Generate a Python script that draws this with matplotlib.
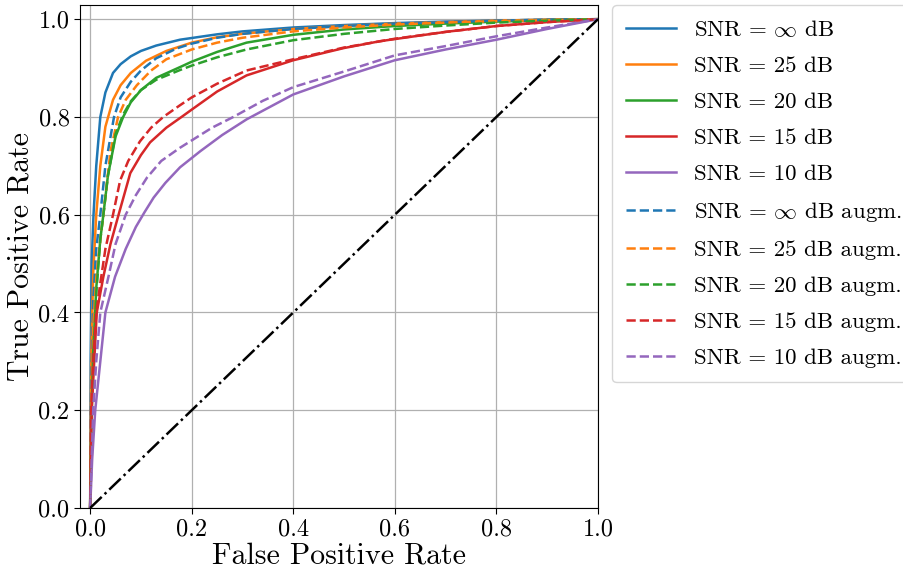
import matplotlib
matplotlib.use("Agg")
import matplotlib.pyplot as plt

plt.rcParams['font.family'] = ['cmr10', 'DejaVu Serif']
plt.rcParams['mathtext.fontset'] = 'cm'
plt.rcParams['axes.formatter.use_mathtext'] = True

labels = [r'SNR = $\infty$ dB', 'SNR = 25 dB', 'SNR = 20 dB', 'SNR = 15 dB', 'SNR = 10 dB',
          r'SNR = $\infty$ dB augm.', 'SNR = 25 dB augm.', 'SNR = 20 dB augm.',
          'SNR = 15 dB augm.', 'SNR = 10 dB augm.']

fpr_inf = [0, 0.001, 0.003, 0.0066, 0.012, 0.02, 0.03, 0.045, 0.06, 0.08, 0.1, 0.13, 0.177, 0.25, 0.3, 0.4, 0.5, 0.6, 0.7, 0.8, 0.9, 1.0]
tpr_inf = [0, 0.3, 0.5, 0.6, 0.7, 0.8, 0.85, 0.89, 0.908, 0.924, 0.935, 0.946, 0.958, 0.969, 0.975, 0.983, 0.988, 0.992, 0.995, 0.997, 0.999, 1.0]

fpr_25 = [0, 0.002, 0.006, 0.012, 0.02, 0.03, 0.045, 0.06, 0.08, 0.11, 0.15, 0.2, 0.25, 0.3, 0.4, 0.5, 0.6, 0.7, 0.8, 0.9, 1.0]
tpr_25 = [0, 0.3, 0.48, 0.6, 0.7, 0.78, 0.835, 0.865, 0.89, 0.915, 0.935, 0.952, 0.963, 0.97, 0.98, 0.986, 0.991, 0.994, 0.997, 0.999, 1.0]

fpr_20 = [0, 0.002, 0.006, 0.012, 0.02, 0.026, 0.035, 0.05, 0.065, 0.08, 0.1, 0.13, 0.177, 0.2, 0.25, 0.308, 0.4, 0.5, 0.6, 0.7, 0.8, 0.9, 1.0]
tpr_20 = [0, 0.15, 0.32, 0.45, 0.55, 0.6, 0.68, 0.76, 0.8, 0.83, 0.855, 0.88, 0.902, 0.913, 0.933, 0.952, 0.968, 0.979, 0.986, 0.991, 0.995, 0.998, 1.0]

fpr_15 = [0, 0.003, 0.008, 0.013, 0.026, 0.04, 0.056, 0.079, 0.1, 0.118, 0.15, 0.18, 0.2, 0.25, 0.308, 0.4, 0.5, 0.571, 0.7, 0.8, 0.9, 1.0]
tpr_15 = [0, 0.2, 0.3, 0.4, 0.473, 0.54, 0.6, 0.685, 0.722, 0.748, 0.778, 0.8, 0.815, 0.852, 0.885, 0.916, 0.941, 0.955, 0.974, 0.986, 0.994, 1.0]

fpr_10 = [0, 0.004, 0.01, 0.02, 0.03, 0.049, 0.07, 0.09, 0.107, 0.125, 0.148, 0.177, 0.217, 0.26, 0.308, 0.4, 0.5, 0.6, 0.7, 0.8, 0.9, 1.0]
tpr_10 = [0, 0.1, 0.2, 0.3, 0.4, 0.473, 0.53, 0.575, 0.605, 0.635, 0.665, 0.697, 0.73, 0.763, 0.795, 0.846, 0.883, 0.916, 0.938, 0.958, 0.98, 1.0]

fpr_inf_a = [0, 0.002, 0.006, 0.012, 0.02, 0.03, 0.047, 0.06, 0.08, 0.1, 0.13, 0.17, 0.2, 0.25, 0.3, 0.4, 0.5, 0.6, 0.7, 0.8, 0.9, 1.0]
tpr_inf_a = [0, 0.25, 0.42, 0.53, 0.6, 0.7, 0.8, 0.84, 0.872, 0.895, 0.92, 0.94, 0.95, 0.962, 0.97, 0.98, 0.986, 0.991, 0.994, 0.997, 0.999, 1.0]

fpr_25_a = [0, 0.002, 0.006, 0.012, 0.02, 0.026, 0.04, 0.055, 0.07, 0.092, 0.12, 0.15, 0.2, 0.25, 0.3, 0.4, 0.5, 0.6, 0.7, 0.8, 0.9, 1.0]
tpr_25_a = [0, 0.2, 0.37, 0.47, 0.55, 0.6, 0.73, 0.8, 0.835, 0.865, 0.895, 0.918, 0.938, 0.952, 0.962, 0.975, 0.983, 0.989, 0.993, 0.996, 0.998, 1.0]

fpr_20_a = [0, 0.002, 0.006, 0.012, 0.02, 0.026, 0.035, 0.05, 0.065, 0.08, 0.1, 0.13, 0.177, 0.2, 0.25, 0.308, 0.4, 0.5, 0.6, 0.7, 0.8, 0.9, 1.0]
tpr_20_a = [0, 0.14, 0.31, 0.44, 0.55, 0.6, 0.68, 0.765, 0.805, 0.832, 0.855, 0.876, 0.896, 0.905, 0.922, 0.938, 0.957, 0.97, 0.98, 0.987, 0.993, 0.997, 1.0]

fpr_15_a = [0, 0.002, 0.006, 0.012, 0.02, 0.03, 0.045, 0.059, 0.075, 0.098, 0.12, 0.144, 0.177, 0.2, 0.25, 0.308, 0.4, 0.5, 0.6, 0.7, 0.8, 0.9, 1.0]
tpr_15_a = [0, 0.2, 0.3, 0.4, 0.46, 0.53, 0.6, 0.67, 0.71, 0.75, 0.778, 0.8, 0.824, 0.84, 0.868, 0.895, 0.918, 0.942, 0.96, 0.974, 0.986, 0.994, 1.0]

fpr_10_a = [0, 0.006, 0.012, 0.02, 0.036, 0.05, 0.07, 0.09, 0.112, 0.14, 0.177, 0.2, 0.24, 0.282, 0.34, 0.4, 0.5, 0.6, 0.7, 0.8, 0.9, 1.0]
tpr_10_a = [0, 0.2, 0.3, 0.4, 0.473, 0.54, 0.6, 0.64, 0.676, 0.71, 0.737, 0.752, 0.778, 0.8, 0.833, 0.861, 0.893, 0.926, 0.945, 0.965, 0.983, 1.0]

curves = [(fpr_inf, tpr_inf), (fpr_25, tpr_25), (fpr_20, tpr_20), (fpr_15, tpr_15), (fpr_10, tpr_10),
          (fpr_inf_a, tpr_inf_a), (fpr_25_a, tpr_25_a), (fpr_20_a, tpr_20_a), (fpr_15_a, tpr_15_a), (fpr_10_a, tpr_10_a)]
colors = ['C0', 'C1', 'C2', 'C3', 'C4'] * 2
styles = ['-'] * 5 + ['--'] * 5

fig = plt.figure(figsize=(9.04, 5.68), dpi=100)
ax = fig.add_axes([80 / 904, 1 - 508 / 568, 518 / 904, 503 / 568])

ax.grid(True, color='#b0b0b0', linewidth=0.9)
ax.set_axisbelow(True)
for (f, t), c, s, lab in zip(curves, colors, styles, labels):
    ax.plot(f, t, color=c, linestyle=s, linewidth=1.8, label=lab)
ax.plot([0, 1], [0, 1], color='black', linestyle='-.', linewidth=1.8)

ax.set_xlim(-0.02, 1.0)
ax.set_ylim(0.0, 1.029)
ax.set_xticks([0, 0.2, 0.4, 0.6, 0.8, 1.0])
ax.set_yticks([0, 0.2, 0.4, 0.6, 0.8, 1.0])
ax.set_xticklabels(['0.0', '0.2', '0.4', '0.6', '0.8', '1.0'])
ax.set_yticklabels(['0.0', '0.2', '0.4', '0.6', '0.8', '1.0'])
ax.tick_params(labelsize=17.5, length=4)
ax.set_xlabel('False Positive Rate', fontsize=21.5, labelpad=1)
ax.set_ylabel('True Positive Rate', fontsize=21.5, labelpad=3)

ax.legend(loc='upper left', bbox_to_anchor=(1.027, 1.0), borderaxespad=0, fontsize=16.5,
          handlelength=2.2, labelspacing=0.7, handletextpad=0.8, borderpad=0.6)

fig.savefig('out.png', dpi=100)
